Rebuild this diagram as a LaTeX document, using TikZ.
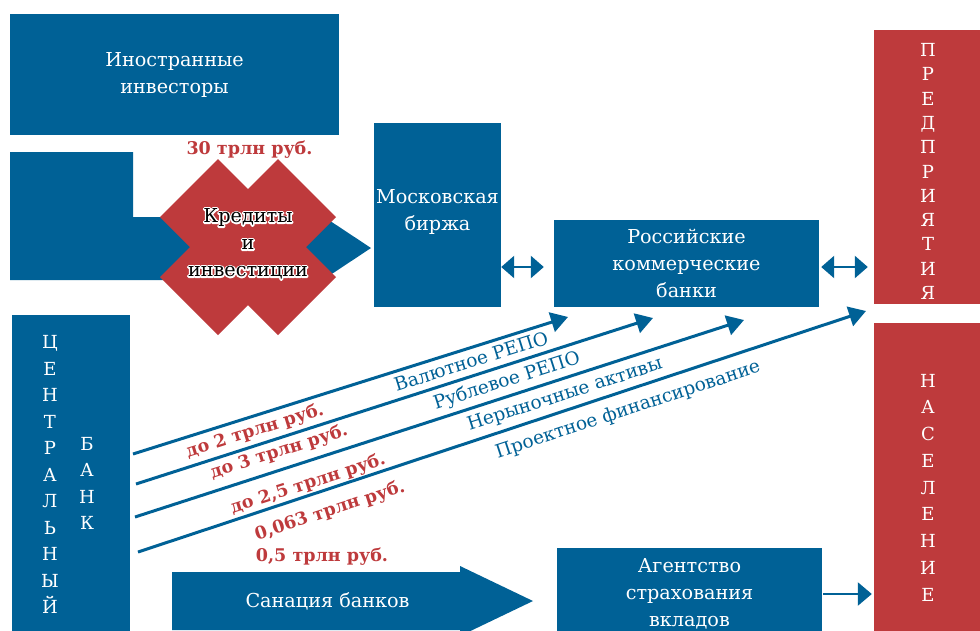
\documentclass[tikz,border=0pt]{standalone}
\usepackage{fontspec}
\setmainfont{DejaVu Serif}
\usetikzlibrary{arrows.meta}
\definecolor{cbblue}{RGB}{0,97,150}
\definecolor{cbred}{RGB}{190,58,60}
\newcommand\myhalo[1]{\rlap{\special{pdf:literal direct 1 Tr 3 w 1 J 1 j 1 1 1 RG}#1\special{pdf:literal direct 0 Tr}}#1}
\tikzset{
  bluebox/.style={fill=cbblue, text=white, inner sep=0pt, align=center, font=\fontsize{19.2}{27}\selectfont},
  redbox/.style={fill=cbred, inner sep=0pt},
  boxtext/.style={text=white, inner sep=0pt, align=center, font=\fontsize{19.2}{27}\selectfont},
  lbl/.style={text=cbblue, inner sep=0pt, font=\fontsize{18.5}{20}\selectfont},
  amt/.style={text=cbred, inner sep=0pt, font=\bfseries\fontsize{17.5}{20}\selectfont},
  dbl/.style={cbblue, line width=2.5pt, {Triangle[length=13pt,width=22pt]}-{Triangle[length=13pt,width=22pt]}},
  diag/.style={cbblue, line width=3pt, -{Triangle[length=17pt,width=20pt]}},
  single/.style={cbblue, line width=2.5pt, -{Triangle[length=14pt,width=23pt]}},
}
\begin{document}
\begin{tikzpicture}[x=1pt,y=-1pt]
\clip (0,0) rectangle (980,630);
\fill[white] (0,0) rectangle (980,630);

% boxes
\node[bluebox, minimum width=329pt, minimum height=121pt] (inv) at (174.5,74.5) {Иностранные\\инвесторы};
\node[bluebox, minimum width=127pt, minimum height=184pt] (birzha) at (437.5,215) {};
\node[boxtext] (birzhat) at (437.5,211.5) {Московская\\биржа};
\node[bluebox, minimum width=265pt, minimum height=87pt] (banks) at (686.5,263.5) {Российские\\коммерческие\\банки};
\node[redbox, minimum width=111pt, minimum height=274pt] (predp) at (929.5,167) {};
\node[boxtext, font=\fontsize{18}{24.3}\selectfont] (predpt) at (928,171.5) {П\\Р\\Е\\Д\\П\\Р\\И\\Я\\Т\\И\\Я};
\node[redbox, minimum width=111pt, minimum height=317pt] (nasel) at (929.5,481.5) {};
\node[boxtext, font=\fontsize{18}{26.75}\selectfont] (naselt) at (928,487.5) {Н\\А\\С\\Е\\Л\\Е\\Н\\И\\Е};
\node[bluebox, minimum width=118pt, minimum height=325pt] (cb) at (71,477.5) {};
\node[boxtext, font=\fontsize{18}{26.5}\selectfont] (cbt1) at (50,474.5) {Ц\\Е\\Н\\Т\\Р\\А\\Л\\Ь\\Н\\Ы\\Й};
\node[boxtext, font=\fontsize{18}{26.3}\selectfont] (cbt2) at (87,483.5) {Б\\А\\Н\\К};
\node[bluebox, minimum width=265pt, minimum height=92pt] (agency) at (689.5,594) {Агентство\\страхования\\вкладов};

% big arrow from the left
\fill[cbblue] (10,152) -- (133,152) -- (133,217) -- (300,217) -- (300,201) -- (371,248) -- (300,295) -- (300,280) -- (10,280) -- cycle;
% cross
\fill[cbred] (218,159) -- (248,189) -- (278,159) -- (336,217) -- (306,247) -- (336,277) -- (278,335) -- (248,305) -- (218,335) -- (160,277) -- (190,247) -- (160,217) -- cycle;
\node[inner sep=0pt, align=center, font=\fontsize{19.2}{27}\selectfont] (kred) at (248,244) {\myhalo{Кредиты}\\\myhalo{и}\\\myhalo{инвестиции}};
\node[amt] (a30) at (249.5,150) {30 трлн руб.};

% sanation arrow
\fill[cbblue] (172,572) -- (460,572) -- (460,566) -- (533,601) -- (460,636) -- (460,630) -- (172,630) -- cycle;
\node[boxtext] (san) at (327.5,601) {Санация банков};
\node[amt] (a05) at (322,557) {0,5 трлн руб.};

% connectors
\draw[dbl] ([yshift=-3.5pt]banks.west -| birzha.east) -- ([yshift=-3.5pt,xshift=-10pt]banks.west);
\draw[dbl] ([yshift=-3.5pt,xshift=2pt]banks.east) -- ([yshift=-3.5pt,xshift=-6pt]banks.east -| predp.west);
\draw[single] ([xshift=1pt]agency.east) -- ([xshift=-2pt]agency.east -| nasel.west);

\coordinate (s1) at (133,454); \coordinate (t1) at (568,317);
\coordinate (s2) at (136,484); \coordinate (t2) at (653,318);
\coordinate (s3) at (135,517); \coordinate (t3) at (744,320);
\coordinate (s4) at (138,552); \coordinate (t4) at (866,311);
\draw[diag] (s1) -- (t1);
\draw[diag] (s2) -- (t2);
\draw[diag] (s3) -- (t3);
\draw[diag] (s4) -- (t4);

\node[amt, rotate=17.4] (l1a) at (255,431) {до 2 трлн руб.};
\node[amt, rotate=17.8] (l2a) at (279,452) {до 3 трлн руб.};
\node[amt, rotate=17.8] (l3a) at (308,484) {до 2,5 трлн руб.};
\node[amt, rotate=18.2] (l4a) at (330,511) {0,063 трлн руб.};
\node[lbl, rotate=17.4] (l1b) at (471,361) {Валютное РЕПО};
\node[lbl, rotate=17.8] (l2b) at (507,381) {Рублевое РЕПО};
\node[lbl, rotate=17.8] (l3b) at (565,395) {Нерыночные активы};
\node[lbl, rotate=18.2] (l4b) at (628,410) {Проектное финансирование};
\end{tikzpicture}
\end{document}
